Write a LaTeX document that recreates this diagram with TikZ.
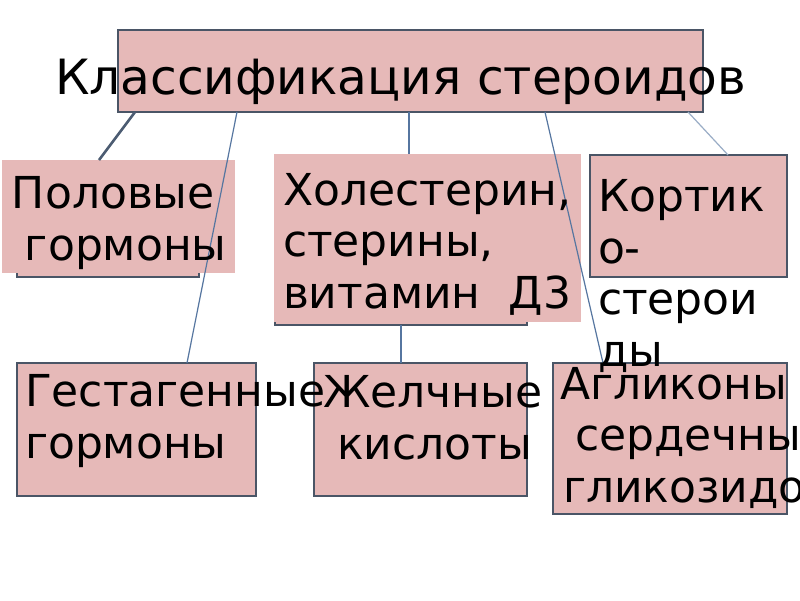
\documentclass[tikz,border=0pt]{standalone}
\usepackage{fontspec}
\setmainfont{DejaVu Sans}
\definecolor{pinkfill}{HTML}{E6B9B8}
\definecolor{edgegray}{HTML}{4A5566}
\definecolor{connblue}{HTML}{5676A0}
\tikzset{
  box/.style={rectangle, draw=edgegray, line width=1.8pt, fill=pinkfill, inner sep=0pt, outer sep=0pt, anchor=north west},
  pinkonly/.style={rectangle, fill=pinkfill, inner sep=0pt, outer sep=0pt, anchor=north west},
  conn/.style={draw=connblue, line width=1.2pt},
  txt/.style={inner sep=0pt, outer sep=0pt, anchor=base west, align=left, font=\fontsize{44}{51.5}\selectfont, text=black},
  titletxt/.style={inner sep=0pt, outer sep=0pt, anchor=base west, font=\fontsize{48.6}{56}\selectfont, text=black}
}
\begin{document}
\begin{tikzpicture}[x=1pt,y=-1pt]
\useasboundingbox[fill=white] (0,0) rectangle (800,600);
% boxes
\node[box, minimum width=585pt, minimum height=82pt] (title) at (118,30) {};
\node[box, minimum width=182pt, minimum height=112pt] (polbox) at (17,165) {};
\node[pinkonly, minimum width=233pt, minimum height=113pt] (polpink) at (2,160) {};
\node[box, minimum width=252pt, minimum height=165pt] (holbox) at (275,160) {};
\node[pinkonly, minimum width=307pt, minimum height=168pt] (holpink) at (274,154) {};
\node[box, minimum width=197pt, minimum height=122pt] (kort) at (590,155) {};
\node[box, minimum width=239pt, minimum height=133pt] (gest) at (17,363) {};
\node[box, minimum width=213pt, minimum height=133pt] (gel) at (314,363) {};
\node[box, minimum width=234pt, minimum height=151pt] (agl) at (553,363) {};
% connectors
\draw[conn, line width=2.6pt, draw=edgegray!80!connblue] ([xshift=17pt]title.south west) -- ([xshift=97pt]polpink.north west);
\draw[conn] ([xshift=119pt]title.south west) -- ([xshift=170pt]gest.north west);
\draw[conn] ([xshift=291pt]title.south west) -- ([xshift=135pt]holpink.north west);
\draw[conn] ([xshift=427pt]title.south west) -- ([xshift=50pt]agl.north west);
\draw[conn, draw=connblue!60] ([xshift=570pt]title.south west) -- ([xshift=138pt]kort.north west);
\draw[conn] ([xshift=126pt]holbox.south west) -- ([xshift=87pt]gel.north west);
% texts (base anchor = baseline of the last line)
\node[titletxt] (ttitle) at (55,94) {Классификация стероидов};
\node[txt] (tpol) at (12,260) {Половые\\\hspace*{13pt}гормоны};
\node[txt] (thol) at (283,308) {Холестерин,\\стерины,\\витамин\ \ Д3};
\node[txt] (tkort) at (598,366) {Кортик\\о-\\стерои\\ды};
\node[txt] (tgest) at (25,458) {Гестагенные\\гормоны};
\node[txt] (tgel) at (323,459) {Желчные\\\hspace*{14pt}кислоты};
\node[txt] (tagl) at (560,502) {Агликоны\\\hspace*{15pt}сердечны\\\hspace*{3pt}гликозидо};
\end{tikzpicture}
\end{document}
